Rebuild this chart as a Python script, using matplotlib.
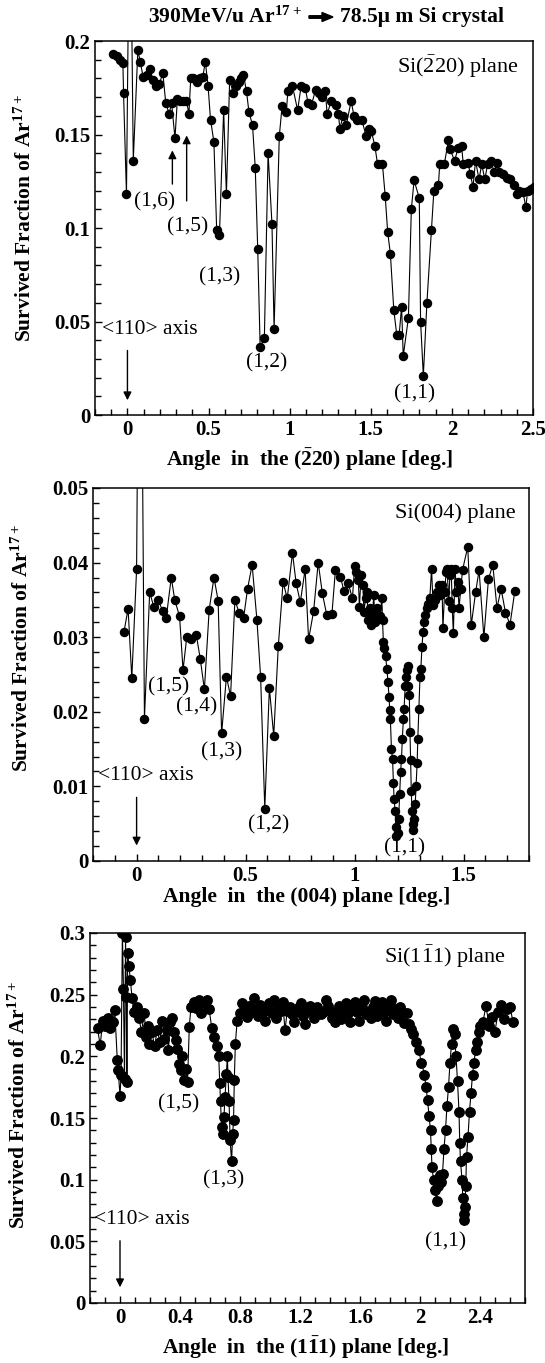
import matplotlib
matplotlib.use("Agg")
import matplotlib.pyplot as plt
from matplotlib.ticker import MultipleLocator

plt.rcParams['font.family'] = ['Liberation Serif', 'DejaVu Serif']
plt.rcParams['mathtext.default'] = 'regular'

W, H = 545, 1363

# ---- Si(-220) plane
x1 = [-0.088, -0.064, -0.045, -0.028, -0.024, -0.006, 0.015, 0.036, 0.064, 0.079,
      0.096, 0.118, 0.139, 0.158, 0.178, 0.197, 0.218, 0.236, 0.257, 0.272,
      0.293, 0.308, 0.325, 0.345, 0.364, 0.379, 0.39, 0.405, 0.426, 0.448,
      0.465, 0.48, 0.497, 0.512, 0.533, 0.55, 0.567, 0.593, 0.61, 0.63,
      0.653, 0.668, 0.685, 0.70, 0.715, 0.734, 0.749, 0.771, 0.788, 0.803,
      0.818, 0.844, 0.867, 0.891, 0.904, 0.936, 0.953, 0.979, 0.989, 1.017,
      1.049, 1.071, 1.096, 1.113, 1.135, 1.16, 1.18, 1.20, 1.22, 1.231,
      1.257, 1.283, 1.30, 1.31, 1.328, 1.349, 1.379, 1.396, 1.418, 1.445,
      1.471, 1.488, 1.503, 1.525, 1.542, 1.572, 1.589, 1.604, 1.621, 1.642,
      1.66, 1.675, 1.69, 1.70, 1.732, 1.75, 1.767, 1.799, 1.807, 1.824,
      1.846, 1.874, 1.889, 1.917, 1.925, 1.953, 1.979, 1.989, 2.017, 2.039,
      2.06, 2.07, 2.099, 2.113, 2.13, 2.146, 2.167, 2.184, 2.203, 2.22,
      2.242, 2.259, 2.28, 2.29, 2.313, 2.338, 2.36, 2.381, 2.403, 2.413,
      2.439, 2.456, 2.467, 2.488, 2.505]
y1 = [0.193, 0.192, 0.190, 0.188, 0.172, 0.118, 0.300, 0.136, 0.195, 0.189,
      0.181, 0.182, 0.185, 0.179, 0.176, 0.177, 0.183, 0.167, 0.161, 0.167,
      0.148, 0.169, 0.168, 0.168, 0.168, 0.161, 0.180, 0.180, 0.178, 0.180,
      0.181, 0.189, 0.176, 0.158, 0.146, 0.099, 0.096, 0.163, 0.118, 0.179,
      0.172, 0.176, 0.178, 0.180, 0.182, 0.173, 0.162, 0.155, 0.132, 0.089,
      0.0365, 0.041, 0.140, 0.102, 0.046, 0.149, 0.165, 0.162, 0.173, 0.176,
      0.163, 0.176, 0.175, 0.167, 0.166, 0.174, 0.172, 0.170, 0.173, 0.161,
      0.168, 0.166, 0.161, 0.153, 0.160, 0.155, 0.168, 0.160, 0.158, 0.158,
      0.149, 0.153, 0.152, 0.144, 0.134, 0.134, 0.117, 0.098, 0.086, 0.056,
      0.043, 0.043, 0.058, 0.0315, 0.052, 0.110, 0.1255, 0.116, 0.050, 0.021,
      0.060, 0.099, 0.120, 0.123, 0.134, 0.134, 0.147, 0.142, 0.136, 0.143,
      0.144, 0.134, 0.135, 0.129, 0.122, 0.136, 0.126, 0.134, 0.126, 0.134,
      0.136, 0.130, 0.135, 0.130, 0.129, 0.127, 0.126, 0.123, 0.118, 0.120,
      0.119, 0.111, 0.120, 0.121, 0.122]

# ---- Si(004) plane
x2 = [-0.058, -0.039, -0.022, 0.0, 0.015, 0.036, 0.06, 0.079, 0.099, 0.12,
      0.136, 0.159, 0.175, 0.197, 0.213, 0.23, 0.25, 0.274, 0.292, 0.311,
      0.333, 0.355, 0.374, 0.39, 0.412, 0.431, 0.451, 0.47, 0.491, 0.509,
      0.53, 0.552, 0.569, 0.588, 0.609, 0.629, 0.65, 0.672, 0.691, 0.715,
      0.732, 0.751, 0.773, 0.789, 0.812, 0.833, 0.852, 0.872, 0.896, 0.912,
      0.935, 0.951, 0.97, 0.99, 1.0, 1.006, 1.017, 1.022, 1.03, 1.038,
      1.043, 1.05, 1.057, 1.062, 1.069, 1.077, 1.082, 1.088, 1.093, 1.101,
      1.109, 1.117, 1.125, 1.128, 1.132, 1.137, 1.142, 1.148, 1.153, 1.158,
      1.161, 1.164, 1.169, 1.174, 1.178, 1.181, 1.186, 1.189, 1.192, 1.199,
      1.202, 1.207, 1.211, 1.215, 1.219, 1.224, 1.227, 1.232, 1.237, 1.24,
      1.243, 1.246, 1.251, 1.254, 1.257, 1.26, 1.263, 1.267, 1.27, 1.274,
      1.278, 1.282, 1.287, 1.29, 1.295, 1.30, 1.304, 1.309, 1.314, 1.319,
      1.325, 1.331, 1.338, 1.345, 1.353, 1.36, 1.369, 1.377, 1.385, 1.393,
      1.401, 1.405, 1.413, 1.42, 1.424, 1.432, 1.437, 1.443, 1.448, 1.453,
      1.461, 1.467, 1.473, 1.479, 1.487, 1.495, 1.519, 1.535, 1.555, 1.571,
      1.593, 1.614, 1.634, 1.653, 1.672, 1.692, 1.713, 1.735]
y2 = [0.0307, 0.0338, 0.0245, 0.0391, 0.10, 0.0191, 0.0361, 0.034, 0.035, 0.0335,
      0.0326, 0.038, 0.035, 0.0328, 0.0256, 0.030, 0.0298, 0.0303, 0.0271, 0.023,
      0.0337, 0.038, 0.0349, 0.0171, 0.0247, 0.0221, 0.035, 0.0333, 0.0326, 0.0365,
      0.0397, 0.0323, 0.0246, 0.0070, 0.0232, 0.0168, 0.0288, 0.0374, 0.0352, 0.0413,
      0.0372, 0.0347, 0.0391, 0.0297, 0.0335, 0.040, 0.0359, 0.033, 0.0331, 0.039,
      0.0381, 0.0362, 0.0373, 0.0352, 0.0395, 0.0387, 0.0377, 0.0341, 0.0383, 0.037,
      0.0334, 0.0352, 0.0361, 0.0323, 0.0339, 0.0316, 0.033, 0.0357, 0.032, 0.0339,
      0.033, 0.0329, 0.0352, 0.0323, 0.0294, 0.0285, 0.0275, 0.0258, 0.024, 0.022,
      0.0202, 0.0191, 0.015, 0.0137, 0.0105, 0.0083, 0.0067, 0.0045, 0.0034, 0.0038,
      0.0056, 0.009, 0.0119, 0.0137, 0.0164, 0.0191, 0.0204, 0.0235, 0.0247, 0.0256,
      0.0262, 0.0235, 0.0222, 0.0173, 0.0135, 0.0094, 0.0067, 0.0049, 0.0042, 0.0056,
      0.0076, 0.0101, 0.0132, 0.0164, 0.0204, 0.0247, 0.0258, 0.0287, 0.0307, 0.0321,
      0.033, 0.0339, 0.0345, 0.0352, 0.0392, 0.0343, 0.035, 0.0361, 0.037, 0.0357,
      0.037, 0.0312, 0.0361, 0.0388, 0.0392, 0.0348, 0.0383, 0.0392, 0.0339, 0.0305,
      0.0392, 0.0361, 0.0374, 0.0339, 0.0365, 0.039, 0.0421, 0.0316, 0.036, 0.039,
      0.030, 0.0378, 0.0397, 0.0339, 0.0365, 0.0333, 0.0317, 0.0362]

# ---- Si(1-11) plane
x3 = [-0.15, -0.132, -0.115, -0.097, -0.081, -0.065, -0.046, -0.035, -0.018, -0.012,
      0.0, 0.007, 0.016, 0.023, 0.03, 0.037, 0.042, 0.046, 0.051, 0.06,
      0.069, 0.081, 0.092, 0.111, 0.127, 0.143, 0.162, 0.173, 0.185, 0.196,
      0.212, 0.231, 0.247, 0.266, 0.282, 0.296, 0.312, 0.323, 0.335, 0.346,
      0.358, 0.37, 0.381, 0.393, 0.404, 0.416, 0.427, 0.439, 0.45, 0.462,
      0.473, 0.49, 0.508, 0.527, 0.543, 0.559, 0.577, 0.594, 0.612, 0.628,
      0.647, 0.658, 0.665, 0.67, 0.677, 0.684, 0.693, 0.70, 0.709, 0.716,
      0.72, 0.727, 0.734, 0.744, 0.751, 0.757, 0.762, 0.769, 0.781, 0.797,
      0.813, 0.83, 0.845, 0.86, 0.875, 0.89, 0.905, 0.92, 0.935, 0.95,
      0.965, 0.98, 0.995, 1.01, 1.025, 1.04, 1.055, 1.07, 1.085, 1.10,
      1.115, 1.13, 1.145, 1.16, 1.175, 1.19, 1.205, 1.22, 1.235, 1.25,
      1.265, 1.28, 1.295, 1.31, 1.325, 1.34, 1.355, 1.37, 1.385, 1.40,
      1.415, 1.43, 1.445, 1.46, 1.475, 1.49, 1.505, 1.52, 1.535, 1.55,
      1.565, 1.58, 1.595, 1.61, 1.625, 1.64, 1.655, 1.67, 1.685, 1.70,
      1.715, 1.73, 1.745, 1.76, 1.775, 1.79, 1.805, 1.82, 1.835, 1.85,
      1.865, 1.88, 1.895, 1.91, 1.925, 1.94, 1.95, 1.97, 1.99, 2.01,
      2.03, 2.04, 2.05, 2.06, 2.07, 2.075, 2.08, 2.09, 2.10, 2.11,
      2.12, 2.13, 2.14, 2.15, 2.16, 2.17, 2.18, 2.19, 2.20, 2.21,
      2.22, 2.23, 2.24, 2.25, 2.26, 2.265, 2.27, 2.28, 2.285, 2.29,
      2.295, 2.30, 2.305, 2.31, 2.32, 2.33, 2.34, 2.35, 2.36, 2.37,
      2.38, 2.39, 2.40, 2.42, 2.44, 2.46, 2.48, 2.50, 2.52, 2.54,
      2.56, 2.58, 2.60, 2.62]
y3 = [0.2226, 0.209, 0.229, 0.225, 0.231, 0.223, 0.228, 0.2376, 0.197, 0.189,
      0.168, 0.185, 0.300, 0.255, 0.182, 0.297, 0.248, 0.179, 0.284, 0.273,
      0.262, 0.247, 0.236, 0.240, 0.231, 0.220, 0.235, 0.216, 0.225, 0.210,
      0.220, 0.208, 0.221, 0.212, 0.229, 0.214, 0.221, 0.205, 0.228, 0.231,
      0.220, 0.213, 0.206, 0.194, 0.189, 0.200, 0.181, 0.190, 0.179, 0.224,
      0.240, 0.244, 0.239, 0.246, 0.235, 0.243, 0.246, 0.238, 0.223, 0.216,
      0.208, 0.200, 0.178, 0.164, 0.1425, 0.137, 0.151, 0.167, 0.186, 0.200,
      0.183, 0.164, 0.132, 0.115, 0.137, 0.148, 0.181, 0.210, 0.229, 0.235,
      0.243, 0.240, 0.232, 0.241, 0.236, 0.247, 0.238, 0.233, 0.242, 0.236,
      0.229, 0.238, 0.243, 0.235, 0.246, 0.231, 0.240, 0.237, 0.244, 0.221,
      0.237, 0.240, 0.234, 0.228, 0.236, 0.240, 0.243, 0.233, 0.226, 0.238,
      0.241, 0.236, 0.231, 0.240, 0.237, 0.234, 0.236, 0.246, 0.241, 0.237,
      0.231, 0.228, 0.236, 0.241, 0.230, 0.237, 0.243, 0.235, 0.228, 0.238,
      0.244, 0.236, 0.229, 0.240, 0.246, 0.234, 0.236, 0.231, 0.240, 0.245,
      0.233, 0.238, 0.244, 0.236, 0.229, 0.240, 0.246, 0.234, 0.238, 0.231,
      0.240, 0.236, 0.227, 0.235, 0.226, 0.222, 0.218, 0.212, 0.205, 0.195,
      0.185, 0.175, 0.165, 0.152, 0.140, 0.125, 0.110, 0.100, 0.092, 0.083,
      0.095, 0.104, 0.098, 0.105, 0.125, 0.140, 0.160, 0.175, 0.195, 0.210,
      0.222, 0.218, 0.200, 0.180, 0.155, 0.130, 0.115, 0.100, 0.085, 0.072,
      0.067, 0.078, 0.095, 0.118, 0.135, 0.155, 0.170, 0.185, 0.195, 0.205,
      0.212, 0.220, 0.225, 0.228, 0.241, 0.225, 0.232, 0.220, 0.236, 0.242,
      0.230, 0.238, 0.240, 0.228]


def fig_text(x, y, s, **kw):
    fig.text(x / W, 1 - y / H, s, **kw)


def make_axes(l, r, t, b):
    ax = fig.add_axes([l / W, 1 - b / H, (r - l) / W, (b - t) / H])
    ax.tick_params(which='both', direction='in', top=False, right=False,
                   labelsize=15, width=1)
    ax.tick_params(which='major', length=5)
    ax.tick_params(which='minor', length=4)
    for sp in ax.spines.values():
        sp.set_linewidth(1.1)
    return ax


def bold_ticks(ax):
    for lab in ax.get_xticklabels() + ax.get_yticklabels():
        lab.set_fontweight('bold')


fig = plt.figure(figsize=(W / 100, H / 100), dpi=100)

style = dict(color='k', lw=0.8, marker='o', ms=5.8, mfc='k', mec='k')
arr = dict(arrowstyle='-|>', color='k', lw=1.0, mutation_scale=12)
ann_kw = dict(fontsize=15.5, ha='center', va='center')
lab_kw = dict(fontsize=15.5, fontweight='bold', ha='center', va='center')
plane_kw = dict(fontsize=16, ha='center', va='center')

# title
fig_text(302, 17, '390MeV/u Ar$^{17+}$', fontsize=15.5, fontweight='bold',
         ha='right', va='center')
fig.add_artist(plt.Line2D([0, 0], [0, 0], visible=False))
fig.patches.append(matplotlib.patches.FancyArrow(
    309 / W, 1 - 17 / H, 24 / W, 0, width=2.5 / H, head_width=9 / H,
    head_length=11 / W, length_includes_head=True, color='k',
    transform=fig.transFigure, figure=fig))
fig_text(340, 17, '78.5\u03bc m Si crystal', fontsize=15.5, fontweight='bold',
         ha='left', va='center')

# panel 1
ax1 = make_axes(95, 533, 41, 415)
ax1.plot(x1, y1, **style)
ax1.set_xlim(-0.2, 2.5)
ax1.set_ylim(0, 0.2)
ax1.xaxis.set_minor_locator(MultipleLocator(0.1))
ax1.yaxis.set_minor_locator(MultipleLocator(0.01))
ax1.set_xticks([0, 0.5, 1, 1.5, 2, 2.5], ['0', '0.5', '1', '1.5', '2', '2.5'])
ax1.set_yticks([0, 0.05, 0.1, 0.15, 0.2], ['0', '0.05', '0.1', '0.15', '0.2'])
bold_ticks(ax1)
ax1.annotate('', xy=(0, 0.0064), xytext=(0, 0.036), arrowprops=arr)
ax1.annotate('', xy=(0.277, 0.143), xytext=(0.277, 0.122), arrowprops=arr)
ax1.annotate('', xy=(0.365, 0.151), xytext=(0.365, 0.113), arrowprops=arr)

fig_text(458, 67, r'Si$(\bar{2}20)$ plane', **plane_kw)
fig_text(155, 202, '(1,6)', **ann_kw)
fig_text(188, 227, '(1,5)', **ann_kw)
fig_text(220, 277, '(1,3)', **ann_kw)
fig_text(267, 363, '(1,2)', **ann_kw)
fig_text(415, 394, '(1,1)', **ann_kw)
fig_text(150, 330, '<110> axis', **ann_kw)
fig_text(309, 460, r'Angle  in  the $(\bar{2}20)$ plane [deg.]', **lab_kw)
fig_text(25, 218, 'Survived Fraction of Ar$^{17+}$', rotation=90, **lab_kw)

# panel 2
ax2 = make_axes(93, 529, 488, 861)
ax2.plot(x2, y2, **style)
ax2.set_xlim(-0.2, 1.8)
ax2.set_ylim(0, 0.05)
ax2.xaxis.set_minor_locator(MultipleLocator(0.1))
ax2.yaxis.set_minor_locator(MultipleLocator(0.002))
ax2.set_xticks([0, 0.5, 1, 1.5], ['0', '0.5', '1', '1.5'])
ax2.set_yticks([0, 0.01, 0.02, 0.03, 0.04, 0.05], ['0', '0.01', '0.02', '0.03', '0.04', '0.05'])
bold_ticks(ax2)
ax2.annotate('', xy=(0, 0.0017), xytext=(0, 0.0089), arrowprops=arr)

fig_text(455, 513, 'Si(004) plane', **plane_kw)
fig_text(169, 687, '(1,5)', **ann_kw)
fig_text(197, 707, '(1,4)', **ann_kw)
fig_text(222, 752, '(1,3)', **ann_kw)
fig_text(269, 825, '(1,2)', **ann_kw)
fig_text(405, 848, '(1,1)', **ann_kw)
fig_text(146, 775, '<110> axis', **ann_kw)
fig_text(307, 897, 'Angle  in  the (004) plane [deg.]', **lab_kw)
fig_text(22, 648, 'Survived Fraction of Ar$^{17+}$', rotation=90, **lab_kw)

# panel 3
ax3 = make_axes(90, 525, 933, 1303)
ax3.plot(x3, y3, color='k', lw=0.8, marker='o', ms=6.8, mfc='k', mec='k')
ax3.set_xlim(-0.2, 2.7)
ax3.set_ylim(0, 0.3)
ax3.xaxis.set_minor_locator(MultipleLocator(0.1))
ax3.yaxis.set_minor_locator(MultipleLocator(0.01))
ax3.set_xticks([0, 0.4, 0.8, 1.2, 1.6, 2.0, 2.4], ['0', '0.4', '0.8', '1.2', '1.6', '2', '2.4'])
ax3.set_yticks([0, 0.05, 0.1, 0.15, 0.2, 0.25, 0.3], ['0', '0.05', '0.1', '0.15', '0.2', '0.25', '0.3'])
bold_ticks(ax3)
ax3.annotate('', xy=(0.0, 0.0105), xytext=(0.0, 0.0527), arrowprops=arr)

fig_text(445, 957, r'Si$(1\bar{1}1)$ plane', **plane_kw)
fig_text(179, 1104, '(1,5)', **ann_kw)
fig_text(224, 1180, '(1,3)', **ann_kw)
fig_text(446, 1242, '(1,1)', **ann_kw)
fig_text(142, 1219, '<110> axis', **ann_kw)
fig_text(306, 1348, r'Angle  in  the $(1\bar{1}1)$ plane [deg.]', **lab_kw)
fig_text(19, 1105, 'Survived Fraction of Ar$^{17+}$', rotation=90, **lab_kw)

fig.savefig('out.png', dpi=100)
